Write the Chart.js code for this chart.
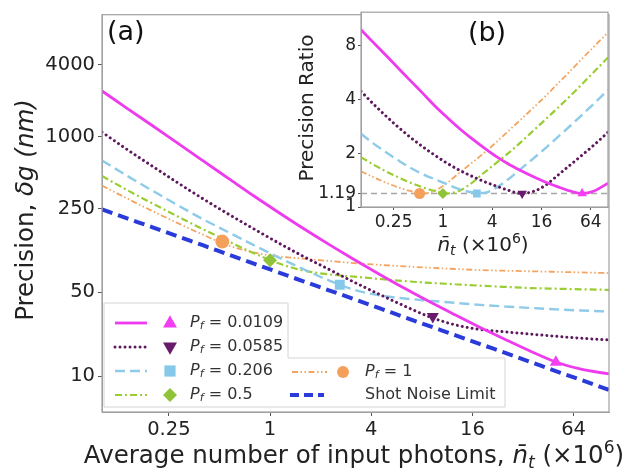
<!DOCTYPE html>
<html><head><meta charset="utf-8">
<script src="https://cdn.jsdelivr.net/npm/chart.js@4.4.1/dist/chart.umd.min.js"></script>
<style>
html,body{margin:0;padding:0;background:#fff;}
#wrap{position:relative;width:637px;height:470px;overflow:hidden;}
canvas{position:absolute;left:0;top:0;}
</style></head><body>
<div id="wrap"><canvas id="main" width="637" height="470"></canvas><canvas id="inset" width="637" height="470"></canvas></div>
<script>
// ---------- data ----------
const nGrid = [0.1, 0.141, 0.2, 0.282, 0.398, 0.562, 0.794, 1.12, 1.58, 2.24, 3.16, 4.47, 6.31, 8.91, 12.6, 17.8, 25.1, 35.5, 50.1, 70.8, 104];
const pfLabels = ['0.0109', '0.0585', '0.206', '0.5', '1'];
// precision delta g (nm), panel (a)
const precision0109 = [2419, 1730, 1238, 884, 632, 452, 323, 234, 171, 126, 94.2, 71.0, 54.1, 41.7, 32.5, 25.5, 20.2, 16.1, 13.1, 11.4, 10.4];
const precision0585 = [1095, 783, 566, 413, 304, 227, 171, 130, 100, 77.9, 61.0, 48.2, 38.5, 31.2, 26.8, 24.5, 23.4, 22.4, 21.5, 20.7, 20.0];
const precision0206 = [634, 472, 354, 268, 205, 160, 125, 98.3, 78.2, 63.0, 52.6, 47.2, 44.5, 42.6, 40.9, 39.3, 38.1, 37.1, 36.1, 35.3, 34.6];
const precision05 = [470, 359, 277, 216, 169, 134, 107, 87.6, 76.2, 70.8, 67.8, 64.8, 62.2, 60.1, 58.5, 56.9, 55.6, 54.4, 53.7, 53.1, 52.5];
const precision1 = [391, 305, 239, 190, 152, 124, 108, 100, 95.7, 91.6, 87.9, 85.0, 82.6, 80.4, 78.5, 76.9, 75.9, 75.1, 74.3, 73.5, 72.5];
const shotNoise = [247, 208, 175, 147, 124, 104, 87.5, 73.6, 61.9, 52.1, 43.9, 36.9, 31.0, 26.1, 22.0, 18.5, 15.6, 13.1, 11.0, 9.27, 7.65];
// precision ratio, panel (b)
const ratio0109 = [9.81, 8.34, 7.09, 6.02, 5.11, 4.35, 3.69, 3.18, 2.76, 2.42, 2.15, 1.92, 1.74, 1.60, 1.48, 1.38, 1.30, 1.23, 1.19, 1.23, 1.36];
const ratio0585 = [4.44, 3.78, 3.24, 2.81, 2.46, 2.18, 1.95, 1.76, 1.61, 1.49, 1.39, 1.31, 1.24, 1.19, 1.22, 1.32, 1.50, 1.71, 1.95, 2.23, 2.62];
const ratio0206 = [2.57, 2.27, 2.03, 1.83, 1.66, 1.53, 1.43, 1.34, 1.26, 1.21, 1.20, 1.28, 1.43, 1.63, 1.86, 2.13, 2.45, 2.83, 3.28, 3.81, 4.52];
const ratio05 = [1.90, 1.73, 1.585, 1.47, 1.37, 1.29, 1.23, 1.19, 1.23, 1.36, 1.55, 1.76, 2.00, 2.30, 2.66, 3.08, 3.57, 4.16, 4.87, 5.73, 6.86];
const ratio1 = [1.585, 1.47, 1.37, 1.29, 1.23, 1.19, 1.23, 1.36, 1.55, 1.76, 2.00, 2.30, 2.66, 3.08, 3.57, 4.16, 4.88, 5.73, 6.75, 7.93, 9.48];
// optimum points (markers)
const optimumN = [50.2, 9.3, 2.6, 1.0, 0.52];
const optimumPrecision = [13.0, 31.5, 58, 93, 133];
const optimumRatio = 1.19;
// ticks
const mainXTicks = [0.25, 1, 4, 16, 64];
const mainXTickLabels = ['0.25', '1', '4', '16', '64'];
const mainYTicks = [10, 50, 250, 1000, 4000];
const mainYTickLabels = ['10', '50', '250', '1000', '4000'];
const insetXTicks = [0.25, 1, 4, 16, 64];
const insetXTickLabels = ['0.25', '1', '4', '16', '64'];
const insetYTicks = [1, 1.19, 2, 4, 8];
const insetYTickLabels = ['1', '1.19', '2', '4', '8'];

// ---------- styles ----------
const FONT = '"DejaVu Sans", "Liberation Sans", sans-serif';
const styles = [
  {color: '#ee3bee', mcolor: '#f23ff2', width: 2.8, dash: [], cap: 'butt', marker: 'triangle', rot: 0},
  {color: '#5e185e', mcolor: '#6a1a6a', width: 3.0, dash: [0.01, 5], cap: 'round', marker: 'triangle', rot: 180},
  {color: '#8ecbe8', mcolor: '#86c8ea', width: 2.4, dash: [10, 5], cap: 'butt', marker: 'rect', rot: 0},
  {color: '#9acd32', mcolor: '#8fc43a', width: 2.2, dash: [7, 3, 2, 3], cap: 'butt', marker: 'rectRot', rot: 0},
  {color: '#f4a460', mcolor: '#f5a05a', width: 1.8, dash: [6, 2.5, 1.5, 2.5, 1.5, 2.5], cap: 'butt', marker: 'circle', rot: 0}
];
const snlStyle = {color: '#2b3bd9', width: 4.0, dash: [11, 6]};
const mainSeries = [precision0109, precision0585, precision0206, precision05, precision1];
const ratioSeries = [ratio0109, ratio0585, ratio0206, ratio05, ratio1];

function pts(xs, ys) { return xs.map((x, i) => ({x: x, y: ys[i]})); }

// ---------- rich text helper ----------
function fontStr(it, px) { return (it ? 'italic ' : '') + px.toFixed(2) + 'px ' + FONT; }
function richWidth(ctx, parts, size) {
  let w = 0;
  parts.forEach(p => { ctx.font = fontStr(p.i, size * (p.s || 1)); w += ctx.measureText(p.t).width; });
  return w;
}
function drawRich(ctx, parts, x, y, size, align, color) {
  const w = richWidth(ctx, parts, size);
  let cx = align === 'center' ? x - w / 2 : (align === 'right' ? x - w : x);
  ctx.fillStyle = color || '#222';
  ctx.textAlign = 'left';
  parts.forEach(p => {
    ctx.font = fontStr(p.i, size * (p.s || 1));
    ctx.fillText(p.t, cx, y + (p.dy || 0) * size);
    cx += ctx.measureText(p.t).width;
  });
}
function pfParts(v) {
  return [{t: 'P', i: true}, {t: 'f', i: true, s: 0.7, dy: 0.2}, {t: ' = ' + v}];
}
function drawMarker(ctx, type, rot, x, y, r, color) {
  ctx.save();
  ctx.fillStyle = color;
  ctx.beginPath();
  if (type === 'triangle') {
    const s = rot ? -1 : 1;
    ctx.moveTo(x, y - s * r * 1.1);
    ctx.lineTo(x + r, y + s * r * 0.65);
    ctx.lineTo(x - r, y + s * r * 0.65);
  } else if (type === 'rect') {
    ctx.rect(x - r * 0.8, y - r * 0.8, r * 1.6, r * 1.6);
  } else if (type === 'rectRot') {
    ctx.moveTo(x, y - r); ctx.lineTo(x + r, y); ctx.lineTo(x, y + r); ctx.lineTo(x - r, y);
  } else {
    ctx.arc(x, y, r * 0.85, 0, Math.PI * 2);
  }
  ctx.closePath();
  ctx.fill();
  ctx.restore();
}
function drawHandle(ctx, x1, x2, y, color, width, dash, cap) {
  ctx.save();
  ctx.strokeStyle = color; ctx.lineWidth = width; ctx.setLineDash(dash); ctx.lineCap = cap || 'butt';
  ctx.beginPath(); ctx.moveTo(x1, y); ctx.lineTo(x2, y); ctx.stroke();
  ctx.restore();
}

// ---------- main chart (a) ----------
const mainDatasets = [];
styles.forEach((st, k) => {
  mainDatasets.push({
    type: 'scatter', data: [{x: optimumN[k], y: optimumPrecision[k]}],
    pointStyle: st.marker, rotation: st.rot, pointRadius: 7, pointHoverRadius: 7,
    backgroundColor: st.mcolor, borderColor: st.mcolor, borderWidth: 0, showLine: false
  });
});
styles.forEach((st, k) => {
  mainDatasets.push({
    type: 'line', label: 'P_f = ' + pfLabels[k], data: pts(nGrid, mainSeries[k]),
    borderColor: st.color, borderWidth: st.width, borderDash: st.dash, borderCapStyle: st.cap,
    pointRadius: 0, fill: false, cubicInterpolationMode: 'monotone'
  });
});
mainDatasets.push({
  type: 'line', label: 'Shot Noise Limit', data: pts(nGrid, shotNoise),
  borderColor: snlStyle.color, borderWidth: snlStyle.width, borderDash: snlStyle.dash,
  pointRadius: 0, fill: false, cubicInterpolationMode: 'monotone'
});

const mainDecor = {
  id: 'mainDecor',
  afterDraw(chart) {
    const ctx = chart.ctx, a = chart.chartArea;
    ctx.save();
    ctx.strokeStyle = '#a0a0a0'; ctx.lineWidth = 1.2;
    ctx.strokeRect(a.left, a.top, a.right - a.left, a.bottom - a.top);
    ctx.textBaseline = 'alphabetic';
    drawRich(ctx, [{t: '(a)'}], 107, 40, 27, 'left', '#111');
    drawRich(ctx, [
      {t: 'Average number of input photons, '}, {t: 'n\u0304', i: true}, {t: 't', i: true, s: 0.7, dy: 0.22},
      {t: ' (\u00d710'}, {t: '6', s: 0.7, dy: -0.42}, {t: ')'}
    ], 354, 463, 24.5, 'center', '#222');
    ctx.save();
    ctx.translate(33, 210); ctx.rotate(-Math.PI / 2);
    drawRich(ctx, [{t: 'Precision, '}, {t: '\u03b4g (nm)', i: true}], 0, 0, 24.5, 'center', '#222');
    ctx.restore();
    // legend (two boxes forming an L)
    ctx.beginPath();
    ctx.moveTo(104, 303); ctx.lineTo(288, 303); ctx.lineTo(288, 358); ctx.lineTo(505, 358);
    ctx.lineTo(505, 407); ctx.lineTo(104, 407); ctx.closePath();
    ctx.fillStyle = 'rgba(255,255,255,0.85)'; ctx.fill();
    ctx.strokeStyle = '#d4d4d4'; ctx.lineWidth = 1; ctx.lineJoin = 'round'; ctx.stroke();
    ctx.textBaseline = 'middle';
    const rows = [323, 347, 371, 395];
    for (let k = 0; k < 4; k++) {
      const st = styles[k];
      drawHandle(ctx, 115, 147, rows[k], st.color, st.width, st.dash, st.cap);
      drawMarker(ctx, st.marker, st.rot, 170, rows[k], 7, st.mcolor);
      drawRich(ctx, pfParts(pfLabels[k]), 190, rows[k], 16, 'left', '#333');
    }
    const st = styles[4];
    drawHandle(ctx, 292, 327, 372, st.color, st.width, st.dash, st.cap);
    drawMarker(ctx, st.marker, 0, 343, 372, 7, st.mcolor);
    drawRich(ctx, pfParts(pfLabels[4]), 365, 372, 16, 'left', '#333');
    drawHandle(ctx, 290, 324, 395, snlStyle.color, snlStyle.width, [9, 5], 'butt');
    drawRich(ctx, [{t: 'Shot Noise Limit'}], 365, 395, 16, 'left', '#333');
    ctx.restore();
  }
};

new Chart(document.getElementById('main'), {
  data: {datasets: mainDatasets},
  options: {
    responsive: false, animation: false, devicePixelRatio: 1,
    layout: {padding: {top: 9, right: 28, left: 0, bottom: 0}},
    plugins: {legend: {display: false}, tooltip: {enabled: false}},
    scales: {
      x: {
        type: 'logarithmic', position: 'bottom', min: 0.1, max: 104,
        afterBuildTicks: s => { s.ticks = mainXTicks.map(v => ({value: v})); },
        afterFit: s => { s.height = 58; },
        ticks: {callback: (v, i) => mainXTickLabels[i], font: {family: FONT, size: 19.5}, color: '#222', maxRotation: 0, autoSkip: false, padding: 2},
        grid: {drawOnChartArea: false, drawTicks: true, tickLength: 4, color: '#555'},
        border: {display: true, color: '#a0a0a0'}
      },
      y: {
        type: 'logarithmic', position: 'left', min: 5, max: 10500,
        afterBuildTicks: s => { s.ticks = mainYTicks.map(v => ({value: v})); },
        afterFit: s => { s.width = 102; },
        ticks: {callback: (v, i) => mainYTickLabels[i], font: {family: FONT, size: 19.5}, color: '#222', autoSkip: false, padding: 3},
        grid: {drawOnChartArea: false, drawTicks: true, tickLength: 4, color: '#555'},
        border: {display: true, color: '#a0a0a0'}
      }
    }
  },
  plugins: [mainDecor]
});

// ---------- inset chart (b) ----------
const insetDatasets = [];
styles.forEach((st, k) => {
  insetDatasets.push({
    type: 'scatter', data: [{x: optimumN[k], y: optimumRatio}],
    pointStyle: st.marker, rotation: st.rot, pointRadius: 5.5, pointHoverRadius: 5.5,
    backgroundColor: st.mcolor, borderColor: st.mcolor, borderWidth: 0, showLine: false
  });
});
styles.forEach((st, k) => {
  insetDatasets.push({
    type: 'line', data: pts(nGrid, ratioSeries[k]),
    borderColor: st.color, borderWidth: st.width, borderDash: st.dash, borderCapStyle: st.cap,
    pointRadius: 0, fill: false, cubicInterpolationMode: 'monotone'
  });
});
insetDatasets.push({
  type: 'line', data: [{x: nGrid[0], y: optimumRatio}, {x: nGrid[nGrid.length - 1], y: optimumRatio}],
  borderColor: '#a8a8a8', borderWidth: 1.6, borderDash: [6, 4], pointRadius: 0, fill: false
});

const insetDecor = {
  id: 'insetDecor',
  beforeDraw(chart) {
    const ctx = chart.ctx, a = chart.chartArea;
    ctx.save(); ctx.fillStyle = '#fff';
    ctx.fillRect(a.left, a.top, a.right - a.left, a.bottom - a.top);
    ctx.restore();
  },
  afterDraw(chart) {
    const ctx = chart.ctx, a = chart.chartArea;
    ctx.save();
    ctx.strokeStyle = '#a0a0a0'; ctx.lineWidth = 1.2;
    ctx.strokeRect(a.left, a.top, a.right - a.left, a.bottom - a.top);
    ctx.textBaseline = 'alphabetic';
    drawRich(ctx, [{t: '(b)'}], 487, 41, 27, 'center', '#111');
    drawRich(ctx, [{t: 'n\u0304', i: true}, {t: 't', i: true, s: 0.7, dy: 0.22}, {t: ' (\u00d710'}, {t: '6', s: 0.7, dy: -0.42}, {t: ')'}], 483, 251, 20, 'center', '#222');
    ctx.save();
    ctx.translate(313, 108); ctx.rotate(-Math.PI / 2);
    drawRich(ctx, [{t: 'Precision Ratio'}], 0, 0, 20, 'center', '#222');
    ctx.restore();
    ctx.restore();
  }
};

new Chart(document.getElementById('inset'), {
  data: {datasets: insetDatasets},
  options: {
    responsive: false, animation: false, devicePixelRatio: 1,
    layout: {padding: {top: 9, right: 29, left: 0, bottom: 0}},
    plugins: {legend: {display: false}, tooltip: {enabled: false}},
    scales: {
      x: {
        type: 'logarithmic', position: 'bottom', min: 0.1, max: 104,
        afterBuildTicks: s => { s.ticks = insetXTicks.map(v => ({value: v})); },
        afterFit: s => { s.height = 263; },
        ticks: {callback: (v, i) => insetXTickLabels[i], font: {family: FONT, size: 17}, color: '#222', maxRotation: 0, autoSkip: false, padding: 2},
        grid: {drawOnChartArea: false, drawTicks: true, tickLength: 3, color: '#555'},
        border: {display: true, color: '#a0a0a0'}
      },
      y: {
        type: 'logarithmic', position: 'left', min: 1, max: 12.3,
        afterBuildTicks: s => { s.ticks = insetYTicks.map(v => ({value: v})); },
        afterFit: s => { s.width = 361; },
        ticks: {callback: (v, i) => insetYTickLabels[i], font: {family: FONT, size: 17}, color: '#222', autoSkip: false, padding: 2},
        grid: {drawOnChartArea: false, drawTicks: true, tickLength: 3, color: '#555'},
        border: {display: true, color: '#a0a0a0'}
      }
    }
  },
  plugins: [insetDecor]
});
</script>
</body></html>
